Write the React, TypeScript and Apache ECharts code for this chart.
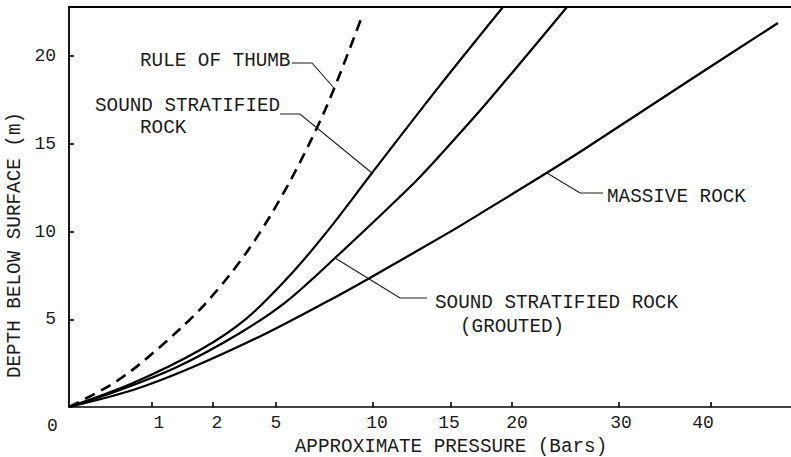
import React, { useEffect, useRef } from "react";
import * as echarts from "echarts";

// Pressure axis (bars) – the original uses an irregular, hand-drawn scale
const pressureTicks = [0, 1, 2, 5, 10, 15, 20, 30, 40];
const pressureTickLabels = ["0", "1", "2", "5", "10", "15", "20", "30", "40"];
// axis scale units for each pressure tick (defines the non-linear scale)
const tickScale = [0, 83, 144, 207, 304, 382, 443, 550, 642];
const labelScale = [0, 90, 148, 207, 308, 380, 448, 552, 634];
const depthTicks = [5, 10, 15, 20];

const ruleOfThumbPressure = [0, 0.494, 0.855, 1.459, 1.869, 2.81, 3.76, 4.71, 5.72, 6.75, 7.53, 8.3, 9.43];
const ruleOfThumbDepth = [0, 1.23, 2.45, 4.45, 5.87, 7.55, 9.09, 10.86, 12.86, 15.08, 16.93, 18.99, 22.25];

const stratifiedPressure = [0, 0.771, 1.787, 3.619, 5.876, 7.784, 9.948, 14.167, 19.262];
const stratifiedDepth = [0, 1.37, 3.25, 5.07, 7.7, 10.21, 13.34, 18.19, 22.8];

const groutedPressure = [0, 0.614, 1.41, 3.286, 5.567, 8.041, 12.564, 14.487, 18.197, 25.14];
const groutedDepth = [0, 0.97, 2.28, 4.22, 6.04, 8.49, 12.71, 14.54, 17.56, 22.8];

const massivePressure = [0, 0.771, 1.672, 4.571, 7.784, 9.742, 14.936, 17.623, 22.617, 26.636, 37.717, 47.283];
const massiveDepth = [0, 0.97, 2.28, 4.22, 6.1, 7.3, 9.98, 11.12, 13.11, 14.65, 18.64, 21.89];

const FONT = "'Liberation Mono', 'DejaVu Sans Mono', monospace";
const INK = "#1a1a1a";

function toScale(p: number): number {
  for (let i = 1; i < pressureTicks.length; i++) {
    if (p <= pressureTicks[i]) {
      const t = (p - pressureTicks[i - 1]) / (pressureTicks[i] - pressureTicks[i - 1]);
      return tickScale[i - 1] + t * (tickScale[i] - tickScale[i - 1]);
    }
  }
  const n = pressureTicks.length - 1;
  const slope = (tickScale[n] - tickScale[n - 1]) / (pressureTicks[n] - pressureTicks[n - 1]);
  return tickScale[n] + (p - pressureTicks[n]) * slope;
}

function pairs(ps: number[], ds: number[]) {
  return ps.map((p, i) => [toScale(p), ds[i]]);
}

export default function App() {
  const ref = useRef<HTMLDivElement>(null);
  useEffect(() => {
    if (!ref.current) return;
    const chart = echarts.init(ref.current, undefined, { renderer: "svg" });
    const txt = (text: string, x: number, y: number, extra: any = {}) => ({
      type: "text",
      x,
      y,
      style: {
        text,
        fill: INK,
        font: `19.3px ${FONT}`,
        textVerticalAlign: "middle",
        textAlign: "left",
        ...extra,
      },
      z: 10,
    });
    const leader = (points: number[][]) => ({
      type: "polyline",
      shape: { points },
      style: { stroke: INK, lineWidth: 1.1, fill: "none" },
      z: 9,
    });
    const lineSeries = (name: string, data: number[][], dashed = false) => ({
      name,
      type: "line",
      data,
      smooth: 0.3,
      symbol: "none",
      lineStyle: {
        color: "#000",
        width: dashed ? 2.6 : 2.2,
        type: dashed ? [11, 7] : "solid",
      },
    });
    chart.setOption({
      animation: false,
      backgroundColor: "#fff",
      grid: { left: 69, right: 0, top: 7, bottom: 50 },
      xAxis: [
        {
          type: "value",
          min: 0,
          max: 722,
          axisLine: { show: true, lineStyle: { color: "#000", width: 1.6 } },
          axisTick: {
            show: true,
            inside: true,
            length: 5,
            customValues: tickScale.slice(1),
            lineStyle: { color: "#000", width: 1.6 },
          },
          axisLabel: {
            customValues: labelScale,
            margin: 7,
            color: INK,
            fontFamily: FONT,
            fontSize: 18,
            formatter: (v: number) => {
              const i = labelScale.findIndex((s) => Math.abs(s - v) < 0.5);
              const t = i >= 0 ? pressureTickLabels[i] : "";
              return i === 0 ? `{o|${t}}` : t;
            },
            rich: {
              o: { fontFamily: FONT, fontSize: 18, color: INK, padding: [3, 33, 0, 0] },
            },
          },
          splitLine: { show: false },
        },
        {
          type: "value",
          position: "top",
          min: 0,
          max: 722,
          axisLine: { show: true, lineStyle: { color: "#000", width: 2 } },
          axisTick: { show: false },
          axisLabel: { show: false },
          splitLine: { show: false },
        },
      ],
      yAxis: {
        type: "value",
        min: 0,
        max: 22.8,
        axisLine: { show: true, lineStyle: { color: "#000", width: 1.8 } },
        axisTick: {
          show: true,
          inside: true,
          length: 5,
          customValues: depthTicks,
          lineStyle: { color: "#000", width: 1.6 },
        },
        axisLabel: {
          customValues: depthTicks,
          margin: 13,
          color: INK,
          fontFamily: FONT,
          fontSize: 18,
        },
        splitLine: { show: false },
      },
      series: [
        lineSeries("Rule of thumb", pairs(ruleOfThumbPressure, ruleOfThumbDepth), true),
        lineSeries("Sound stratified rock", pairs(stratifiedPressure, stratifiedDepth)),
        lineSeries("Sound stratified rock (grouted)", pairs(groutedPressure, groutedDepth)),
        lineSeries("Massive rock", pairs(massivePressure, massiveDepth)),
      ],
      graphic: [
        txt("RULE OF THUMB", 140, 61),
        leader([[292, 63], [312, 63], [334, 88]]),
        txt("SOUND STRATIFIED", 95, 106),
        txt("ROCK", 140, 128),
        leader([[280, 114], [300, 114], [372, 173]]),
        txt("MASSIVE ROCK", 607, 197),
        leader([[547, 173], [580, 193], [603, 193]]),
        txt("SOUND STRATIFIED ROCK", 435, 303),
        txt("(GROUTED)", 460, 327),
        leader([[335, 258], [400, 298], [427, 298]]),
        txt("APPROXIMATE PRESSURE (Bars)", 451, 447, { textAlign: "center" }),
        {
          type: "text",
          x: 15,
          y: 245,
          rotation: Math.PI / 2,
          style: {
            text: "DEPTH BELOW SURFACE (m)",
            fill: INK,
            font: `19.3px ${FONT}`,
            textAlign: "center",
            textVerticalAlign: "middle",
          },
          z: 10,
        },
      ],
    });
    return () => chart.dispose();
  }, []);
  return (
    <div
      ref={ref}
      style={{ position: "fixed", left: 0, top: 0, width: 791, height: 457, background: "#fff" }}
    />
  );
}
